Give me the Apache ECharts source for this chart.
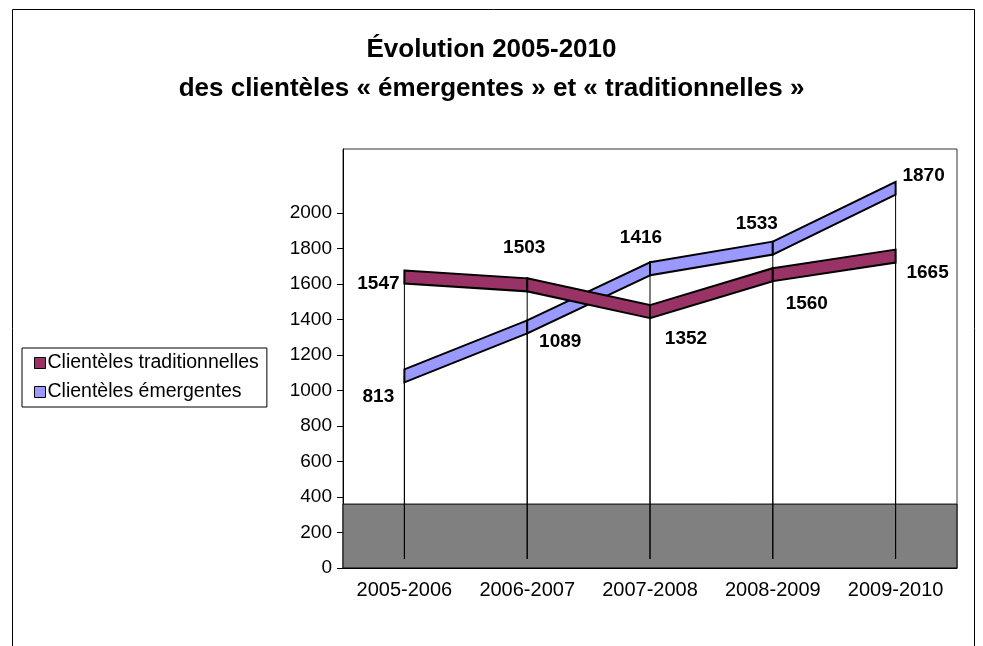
<!DOCTYPE html>
<html>
<head>
<meta charset="utf-8">
<script src="https://cdn.jsdelivr.net/npm/echarts@6/dist/echarts.min.js"></script>
<style>
  html, body { margin: 0; padding: 0; background: #fff; }
  #chart { width: 983px; height: 646px; }
</style>
</head>
<body>
<div id="chart"></div>
<script>
const categories = ["2005-2006", "2006-2007", "2007-2008", "2008-2009", "2009-2010"];
const traditionnelles = [1547, 1503, 1352, 1560, 1665];
const emergentes = [813, 1089, 1416, 1533, 1870];
const yTicks = [0, 200, 400, 600, 800, 1000, 1200, 1400, 1600, 1800, 2000];

// 3D look: back wall height, floor depth, and how far each ribbon sits up the wall
const WALL_MAX = 2360;
const FLOOR_TOP = 360;
const DEPTH_TRAD = 92;
const DEPTH_EMER = 269;
const HALF = 6.5; // half ribbon thickness, px

// label nudges (px) so they sit like the Excel ones
const tradLabelPos = [[-26, 7], [-3, -37], [36, 27], [34, 29], [32, 17]];
const emerLabelPos = [[-26, 21], [33, 15], [-9, -31], [-16, -24], [28, -12]];

const FONT = "'Liberation Sans', Arial, sans-serif";

function ribbon(values, color, labelPos) {
  return function (params, api) {
    const i = params.dataIndex;
    const p = api.coord([i, values[i]]);
    const children = [];
    if (i < values.length - 1) {
      const q = api.coord([i + 1, values[i + 1]]);
      children.push({
        type: "polygon",
        shape: { points: [[p[0], p[1] - HALF], [q[0], q[1] - HALF], [q[0], q[1] + HALF], [p[0], p[1] + HALF]] },
        style: { fill: color, stroke: "#000", lineWidth: 2 },
      });
    }
    children.push({
      type: "text",
      z2: 10,
      x: p[0] + labelPos[i][0],
      y: p[1] + labelPos[i][1],
      style: {
        text: String(values[i]),
        fill: "#000",
        font: "bold 19px " + FONT,
        align: "center",
        verticalAlign: "middle",
      },
    });
    return { type: "group", children };
  };
}

function dropLine(values) {
  return function (params, api) {
    const i = params.dataIndex;
    const p = api.coord([i, values[i]]);
    const cs = params.coordSys;
    return {
      type: "line",
      shape: { x1: p[0], y1: p[1], x2: p[0], y2: cs.y + cs.height - 9 },
      style: { stroke: "#000", lineWidth: 1 },
    };
  };
}

const chart = echarts.init(document.getElementById("chart"));
chart.setOption({
  animation: false,
  backgroundColor: "#fff",
  textStyle: { fontFamily: FONT, color: "#000" },
  title: {
    text: "Évolution 2005-2010\ndes clientèles « émergentes » et « traditionnelles »",
    left: "center",
    top: 30,
    padding: 0,
    textStyle: { fontSize: 26, fontWeight: "bold", lineHeight: 39, color: "#000", fontFamily: FONT },
  },
  legend: {
    orient: "vertical",
    left: 22,
    top: 348,
    padding: [5, 8, 5, 12],
    itemGap: 9,
    itemWidth: 11,
    itemHeight: 11,
    icon: "rect",
    borderColor: "#000",
    borderWidth: 1,
    itemStyle: { borderColor: "#000", borderWidth: 1 },
    textStyle: { fontSize: 19.5, lineHeight: 20, color: "#000", fontFamily: FONT, padding: [0, 0, 0, -3] },
    data: ["Clientèles traditionnelles", "Clientèles émergentes"],
  },
  graphic: [
    {
      type: "rect",
      left: 10,
      top: 7,
      shape: { width: 962, height: 700 },
      style: { fill: "none", stroke: "#000", lineWidth: 1 },
      silent: true,
    },
  ],
  grid: {
    left: 343,
    right: 26,
    top: 149,
    bottom: 78,
    show: true,
    borderColor: "#333",
    borderWidth: 1,
  },
  xAxis: {
    type: "category",
    data: categories,
    boundaryGap: true,
    axisLine: { lineStyle: { color: "#000" } },
    axisTick: { length: 5, interval: 0, lineStyle: { color: "#000" } },
    axisLabel: { fontSize: 20, color: "#000", margin: 12, fontFamily: FONT, interval: 0, hideOverlap: false },
    splitLine: { show: false },
  },
  yAxis: [
    {
      type: "value",
      min: 0,
      max: WALL_MAX,
      axisLine: { show: true, lineStyle: { color: "#000" } },
      axisTick: { show: true, length: 6, lineStyle: { color: "#000" }, customValues: yTicks },
      axisLabel: {
        fontSize: 19,
        color: "#000",
        margin: 11,
        fontFamily: FONT,
        customValues: yTicks,
        formatter: (v) => String(v),
      },
      splitLine: { show: false },
    },
    { type: "value", show: false, min: -DEPTH_TRAD, max: WALL_MAX - DEPTH_TRAD },
    { type: "value", show: false, min: -DEPTH_EMER, max: WALL_MAX - DEPTH_EMER },
  ],
  series: [
    {
      type: "custom",
      name: "floor",
      yAxisIndex: 0,
      z: 1,
      silent: true,
      data: [[0, FLOOR_TOP]],
      renderItem: function (params, api) {
        const cs = params.coordSys;
        const top = api.coord([0, api.value(1)])[1];
        return {
          type: "rect",
          shape: { x: cs.x, y: top, width: cs.width, height: cs.y + cs.height - top },
          style: { fill: "#808080", stroke: "#000", lineWidth: 1 },
        };
      },
    },
    {
      type: "custom",
      name: "dropTrad",
      yAxisIndex: 1,
      z: 2,
      silent: true,
      data: traditionnelles.map((v, i) => [i, v]),
      renderItem: dropLine(traditionnelles),
    },
    {
      type: "custom",
      name: "dropEmer",
      yAxisIndex: 2,
      z: 2,
      silent: true,
      data: emergentes.map((v, i) => [i, v]),
      renderItem: dropLine(emergentes),
    },
    {
      type: "custom",
      name: "Clientèles émergentes",
      yAxisIndex: 2,
      z: 3,
      itemStyle: { color: "#9999FF" },
      data: emergentes.map((v, i) => [i, v]),
      renderItem: ribbon(emergentes, "#9999FF", emerLabelPos),
    },
    {
      type: "custom",
      name: "Clientèles traditionnelles",
      yAxisIndex: 1,
      z: 4,
      itemStyle: { color: "#993366" },
      data: traditionnelles.map((v, i) => [i, v]),
      renderItem: ribbon(traditionnelles, "#993366", tradLabelPos),
    },
  ],
});
</script>
</body>
</html>
